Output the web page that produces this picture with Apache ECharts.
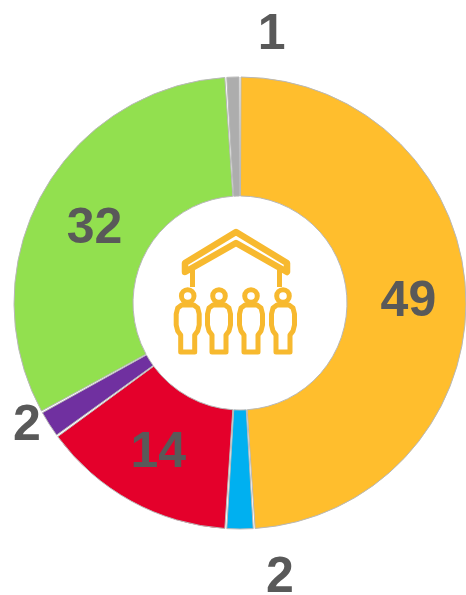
<!DOCTYPE html>
<html>
<head>
<meta charset="utf-8">
<style>
  html, body { margin: 0; padding: 0; background: #fff; }
  #chart { width: 466px; height: 595px; }
</style>
<script src="https://cdn.jsdelivr.net/npm/echarts@6/dist/echarts.min.js"></script>
</head>
<body>
<div id="chart"></div>
<script>
  const names = ['A', 'B', 'C', 'D', 'E', 'F'];
  const values = [49, 2, 14, 2, 32, 1];
  const colors = ['#ffbe2d', '#00b0f0', '#e4002b', '#7030a0', '#92e04f', '#adadad'];
  // label nudges from the middle of each slice, the small slices push theirs outside the ring
  const labelOffsets = [[-1, 5], [40, 106], [0, 2], [-70, 32], [3, 8], [37, -98]];

  const iconColor = '#f7b92f';
  const personX = [187.7, 219, 251, 283];
  const roofPoints = [[236, 232], [185, 263], [185, 272], [236, 243], [287, 272], [287, 263]];
  const bodyPoints = [[-6, 305], [-10, 308], [-11.5, 314], [-11.5, 325], [-10, 331], [-7, 335], [-7, 352],
    [7, 352], [7, 335], [10, 331], [11.5, 325], [11.5, 314], [10, 308], [6, 305]];

  const chart = echarts.init(document.getElementById('chart'), null, { renderer: 'canvas' });

  function iconParts() {
    const line = { fill: 'none', stroke: iconColor, lineWidth: 5, lineJoin: 'round' };
    const parts = [
      { type: 'polygon', shape: { points: roofPoints }, style: { ...line, lineWidth: 6.5 } },
      { type: 'line', shape: { x1: 192.5, y1: 270, x2: 192.5, y2: 287 }, style: line },
      { type: 'line', shape: { x1: 279.5, y1: 270, x2: 279.5, y2: 287 }, style: line }
    ];
    personX.forEach((x) => {
      parts.push({ type: 'circle', shape: { cx: x, cy: 296, r: 6.3 }, style: line });
      parts.push({ type: 'polygon', x, shape: { points: bodyPoints }, style: line });
    });
    return parts;
  }

  chart.setOption({
    animation: false,
    backgroundColor: '#fff',
    graphic: { elements: iconParts() },
    series: [{
      type: 'pie',
      center: [240, 303],
      radius: [107, 226],
      startAngle: 90,
      clockwise: true,
      padAngle: 0.5,
      avoidLabelOverlap: false,
      silent: true,
      itemStyle: { borderColor: '#b8b8b8', borderWidth: 1 },
      labelLine: { show: false },
      data: values.map((value, i) => ({
        name: names[i],
        value,
        itemStyle: { color: colors[i] },
        label: {
          show: true,
          formatter: '{c}',
          position: 'inside',
          offset: labelOffsets[i],
          color: '#595959',
          fontFamily: '"Liberation Sans", Arial, sans-serif',
          fontWeight: 'bold',
          fontSize: 50
        }
      }))
    }]
  });
</script>
</body>
</html>
